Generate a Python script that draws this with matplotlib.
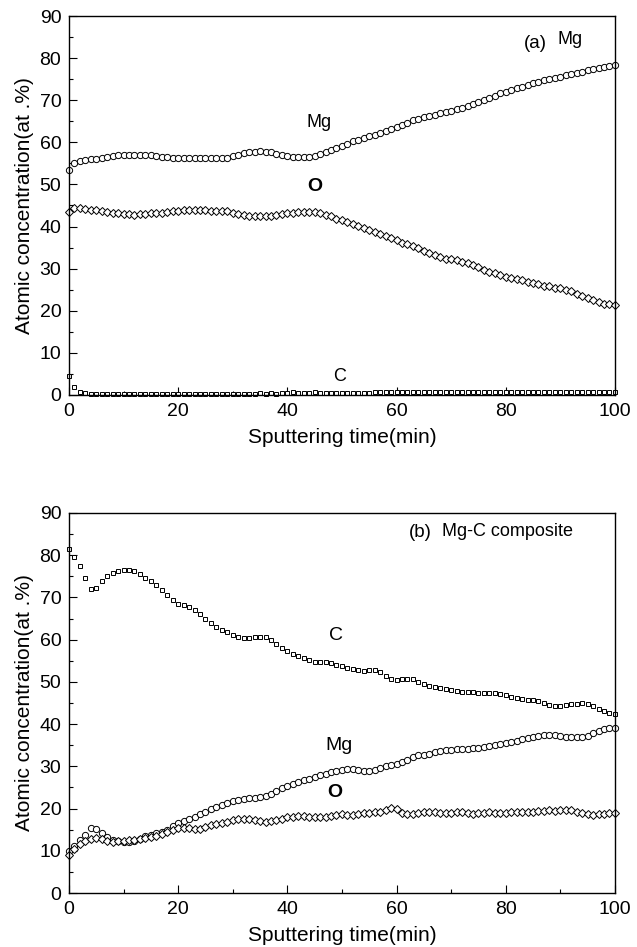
import numpy as np
import matplotlib
matplotlib.use("Agg")
import matplotlib.pyplot as plt
from matplotlib.ticker import MultipleLocator

plt.rcParams["font.family"] = ["Liberation Sans", "DejaVu Sans"]

# sputtering time (min), one sample per minute
t = np.arange(0, 101)

# (a) pure Mg
mg_a = [53.5, 55.0, 55.5, 55.8, 56.0, 56.0, 56.2, 56.5, 56.7, 56.9,
        57.0, 57.1, 57.1, 57.0, 57.0, 56.9, 56.8, 56.6, 56.4, 56.3,
        56.2, 56.2, 56.2, 56.2, 56.2, 56.2, 56.2, 56.2, 56.2, 56.3,
        56.7, 57.1, 57.4, 57.6, 57.8, 57.9, 57.8, 57.6, 57.3, 57.0,
        56.8, 56.6, 56.5, 56.5, 56.6, 56.8, 57.2, 57.7, 58.2, 58.7,
        59.2, 59.7, 60.2, 60.6, 61.0, 61.4, 61.8, 62.2, 62.7, 63.2,
        63.7, 64.2, 64.7, 65.2, 65.6, 66.0, 66.3, 66.6, 66.9, 67.2,
        67.5, 67.8, 68.2, 68.6, 69.1, 69.6, 70.1, 70.6, 71.1, 71.6,
        72.0, 72.4, 72.8, 73.2, 73.6, 74.0, 74.4, 74.7, 75.0, 75.3,
        75.6, 75.9, 76.2, 76.5, 76.8, 77.1, 77.4, 77.7, 78.0, 78.2,
        78.3]
o_a = [43.5, 44.3, 44.3, 44.2, 44.0, 43.9, 43.7, 43.5, 43.3, 43.1,
       43.0, 42.9, 42.8, 42.9, 43.0, 43.1, 43.2, 43.3, 43.4, 43.6,
       43.8, 44.0, 44.0, 44.0, 44.0, 43.9, 43.8, 43.7, 43.7, 43.6,
       43.3, 43.0, 42.8, 42.6, 42.5, 42.5, 42.5, 42.6, 42.8, 43.0,
       43.2, 43.3, 43.4, 43.5, 43.5, 43.4, 43.2, 42.8, 42.4, 41.9,
       41.5, 41.1, 40.6, 40.1, 39.6, 39.1, 38.6, 38.2, 37.7, 37.2,
       36.7, 36.2, 35.8, 35.3, 34.8, 34.3, 33.8, 33.3, 32.8, 32.4,
       32.2, 32.0, 31.7, 31.3, 30.8, 30.3, 29.8, 29.3, 28.9, 28.5,
       28.1, 27.8, 27.5, 27.2, 26.9, 26.6, 26.3, 26.0, 25.8, 25.5,
       25.3, 25.0, 24.6, 24.1, 23.6, 23.1, 22.6, 22.1, 21.7, 21.5,
       21.4]
c_a = [4.5, 2.0, 0.6, 0.4, 0.3, 0.3, 0.3, 0.3, 0.3, 0.3,
       0.3, 0.3, 0.3, 0.3, 0.3, 0.3, 0.3, 0.3, 0.3, 0.3,
       0.3, 0.3, 0.3, 0.3, 0.3, 0.3, 0.3, 0.3, 0.3, 0.3,
       0.3, 0.3, 0.3, 0.3, 0.3, 0.4, 0.3, 0.4, 0.3, 0.5,
       0.4, 0.6, 0.4, 0.5, 0.4, 0.6, 0.4, 0.4, 0.4, 0.4,
       0.4, 0.4, 0.4, 0.4, 0.4, 0.4, 0.6, 0.6, 0.6, 0.6,
       0.6, 0.6, 0.6, 0.6, 0.6, 0.6, 0.6, 0.6, 0.6, 0.6,
       0.6, 0.6, 0.6, 0.6, 0.6, 0.6, 0.6, 0.6, 0.6, 0.6,
       0.6, 0.6, 0.6, 0.6, 0.6, 0.6, 0.6, 0.6, 0.6, 0.6,
       0.6, 0.6, 0.6, 0.6, 0.6, 0.6, 0.6, 0.6, 0.6, 0.6,
       0.6]

# (b) Mg-C composite
c_b = [81.5, 79.5, 77.5, 74.5, 72.0, 72.3, 73.8, 75.0, 75.8, 76.2,
       76.5, 76.5, 76.2, 75.5, 74.5, 73.8, 73.0, 71.8, 70.5, 69.3,
       68.5, 68.2, 67.7, 67.0, 66.0, 65.0, 64.0, 63.0, 62.3, 61.8,
       61.2, 60.7, 60.5, 60.5, 60.6, 60.7, 60.7, 60.0, 59.0, 58.0,
       57.2, 56.6, 56.2, 55.7, 55.2, 54.8, 54.7, 54.6, 54.4, 54.1,
       53.7, 53.3, 53.0, 52.7, 52.6, 52.7, 52.7, 52.3, 51.5, 50.8,
       50.5, 50.6, 50.8, 50.6, 50.0, 49.5, 49.1, 48.9, 48.6, 48.4,
       48.1, 47.9, 47.7, 47.6, 47.5, 47.4, 47.4, 47.4, 47.3, 47.1,
       46.8, 46.4, 46.1, 45.9, 45.8, 45.7, 45.5, 45.0, 44.6, 44.4,
       44.4, 44.5, 44.7, 44.8, 44.9, 44.8, 44.3, 43.6, 43.1, 42.7,
       42.5]
mg_b = [10.0, 11.2, 12.5, 13.8, 15.5, 15.2, 14.2, 13.2, 12.6, 12.3,
        12.1, 12.0, 12.4, 12.9, 13.4, 13.8, 14.1, 14.5, 15.0, 15.8,
        16.5, 17.0, 17.5, 18.0, 18.6, 19.3, 19.9, 20.4, 20.9, 21.4,
        21.8, 22.1, 22.3, 22.4, 22.5, 22.7, 23.0, 23.5, 24.1, 24.8,
        25.4, 25.9, 26.3, 26.7, 27.1, 27.5, 27.9, 28.3, 28.6, 28.9,
        29.2, 29.4, 29.4, 29.2, 29.0, 28.9, 29.2, 29.6, 30.0, 30.3,
        30.6, 31.0, 31.6, 32.2, 32.6, 32.8, 33.0, 33.3, 33.6, 33.8,
        33.9, 34.0, 34.1, 34.2, 34.3, 34.4, 34.6, 34.8, 35.0, 35.2,
        35.5, 35.8, 36.1, 36.4, 36.6, 36.9, 37.2, 37.4, 37.5, 37.4,
        37.2, 37.0, 36.9, 36.9, 37.0, 37.2, 37.8, 38.4, 38.8, 39.0,
        39.0]
o_b = [9.0, 10.5, 11.5, 12.3, 12.9, 13.0, 12.7, 12.3, 12.2, 12.3,
       12.4, 12.5, 12.6, 12.8, 13.0, 13.2, 13.5, 13.9, 14.4, 14.9,
       15.3, 15.5, 15.3, 15.1, 15.2, 15.6, 16.0, 16.3, 16.6, 16.9,
       17.2, 17.5, 17.6, 17.6, 17.4, 17.1, 16.9, 17.0, 17.3, 17.6,
       17.9, 18.1, 18.2, 18.2, 18.1, 18.0, 18.0, 18.1, 18.3, 18.5,
       18.6, 18.5, 18.5, 18.7, 18.9, 19.0, 19.1, 19.3, 19.7, 20.1,
       19.8, 19.0, 18.7, 18.8, 19.0, 19.2, 19.3, 19.2, 19.0, 18.9,
       19.0, 19.2, 19.1, 18.9, 18.8, 18.9, 19.0, 19.1, 19.0, 18.9,
       19.0, 19.2, 19.3, 19.2, 19.1, 19.2, 19.4, 19.5, 19.6, 19.5,
       19.6, 19.7, 19.6, 19.3, 19.0, 18.7, 18.5, 18.6, 18.8, 19.0,
       19.0]

fig = plt.figure(figsize=(6.37, 9.47), dpi=100)
ax1 = fig.add_axes([0.1083, 0.5829, 0.857, 0.4002])
ax2 = fig.add_axes([0.1083, 0.0570, 0.857, 0.4013])

mk = dict(linestyle="none", markerfacecolor="white", markeredgecolor="black",
          markeredgewidth=0.7, clip_on=False)

ax1.plot(t, mg_a, marker="o", markersize=4.5, **mk)
ax1.plot(t, o_a, marker="D", markersize=4.5, **mk)
ax1.plot(t, c_a, marker="s", markersize=3.5, **mk)

ax2.plot(t, c_b, marker="s", markersize=3.5, **mk)
ax2.plot(t, mg_b, marker="o", markersize=4.5, **mk)
ax2.plot(t, o_b, marker="D", markersize=4.5, **mk)

for ax in (ax1, ax2):
    ax.set_xlim(0, 100)
    ax.set_ylim(0, 90)
    ax.xaxis.set_major_locator(MultipleLocator(20))
    ax.xaxis.set_minor_locator(MultipleLocator(10))
    ax.yaxis.set_major_locator(MultipleLocator(10))
    ax.yaxis.set_minor_locator(MultipleLocator(5))
    ax.tick_params(which="both", direction="in", top=False, right=False,
                   labelsize=14, width=0.8)
    ax.tick_params(which="major", length=6, pad=5.5)
    ax.tick_params(which="minor", length=3)
    for sp in ax.spines.values():
        sp.set_linewidth(1.0)
    ax.set_xlabel("Sputtering time(min)", fontsize=15, labelpad=6)
    ax.set_ylabel("Atomic concentration(at .%)", fontsize=15, labelpad=4)

ax1.text(85.5, 83.5, "(a)", fontsize=13.5, ha="center", va="center")
ax1.text(91.8, 84.5, "Mg", fontsize=13, ha="center", va="center")
ax1.text(45.8, 64.8, "Mg", fontsize=13, ha="center", va="center")
ax1.text(45.0, 49.6, "O", fontsize=14, fontweight="bold", ha="center", va="center")
ax1.text(49.5, 4.5, "C", fontsize=13, ha="center", va="center")

ax2.text(64.3, 85.3, "(b)", fontsize=13.5, ha="center", va="center")
ax2.text(68.3, 85.5, "Mg-C composite", fontsize=13, ha="left", va="center")
ax2.text(49.0, 61.1, "C", fontsize=14, ha="center", va="center")
ax2.text(49.5, 35.0, "Mg", fontsize=14, ha="center", va="center")
ax2.text(48.7, 23.7, "O", fontsize=14, fontweight="bold", ha="center", va="center")

fig.savefig("out.png", dpi=100)
